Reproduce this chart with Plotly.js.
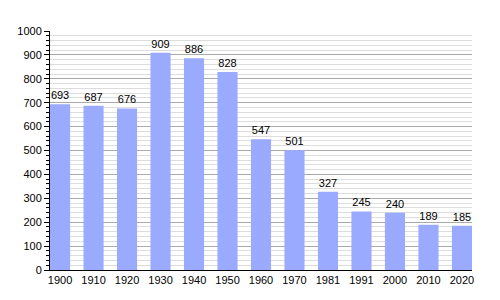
<!DOCTYPE html>
<html>
<head>
<meta charset="utf-8">
<script src="https://cdn.plot.ly/plotly-3.0.1.min.js"></script>
<style>html,body{margin:0;padding:0;background:#fff;}#chart{width:500px;height:300px;}</style>
</head>
<body>
<div id="chart"></div>
<script>
const years = ["1900","1910","1920","1930","1940","1950","1960","1970","1981","1991","2000","2010","2020"];
const population = [693,687,676,909,886,828,547,501,327,245,240,189,185];

const trace = {
  type: 'bar',
  x: years,
  y: population,
  width: 0.6,
  marker: {color: '#99aaff', line: {width: 0}},
  text: population.map(String),
  textposition: 'outside',
  textfont: {family: 'Liberation Sans, Arial, sans-serif', size: 11, color: '#000'},
  cliponaxis: false,
  hoverinfo: 'none'
};

const layout = {
  width: 500, height: 300,
  margin: {l: 50, r: 28, t: 31, b: 30, pad: 0},
  paper_bgcolor: '#fff', plot_bgcolor: '#fff',
  showlegend: false,
  font: {family: 'Liberation Sans, Arial, sans-serif', size: 11, color: '#000'},
  xaxis: {
    type: 'category',
    range: [-0.3, 12.3],
    showgrid: false,
    showline: true, linecolor: '#000', linewidth: 1,
    ticks: '', tickfont: {size: 11, color: '#000'},
    fixedrange: true
  },
  yaxis: {
    range: [0, 1000],
    dtick: 100,
    showgrid: true, gridcolor: '#aaaaaa', gridwidth: 1,
    showline: true, linecolor: '#000', linewidth: 1,
    ticks: 'outside', ticklen: 5, tickcolor: '#000',
    tickfont: {size: 11, color: '#000'},
    zeroline: false,
    minor: {dtick: 20, showgrid: true, gridcolor: '#dddddd', gridwidth: 1, ticks: 'outside', ticklen: 3, tickcolor: '#000'},
    fixedrange: true
  },
  bargap: 0.4
};

Plotly.newPlot('chart', [trace], layout, {staticPlot: true, displayModeBar: false});
</script>
</body>
</html>
